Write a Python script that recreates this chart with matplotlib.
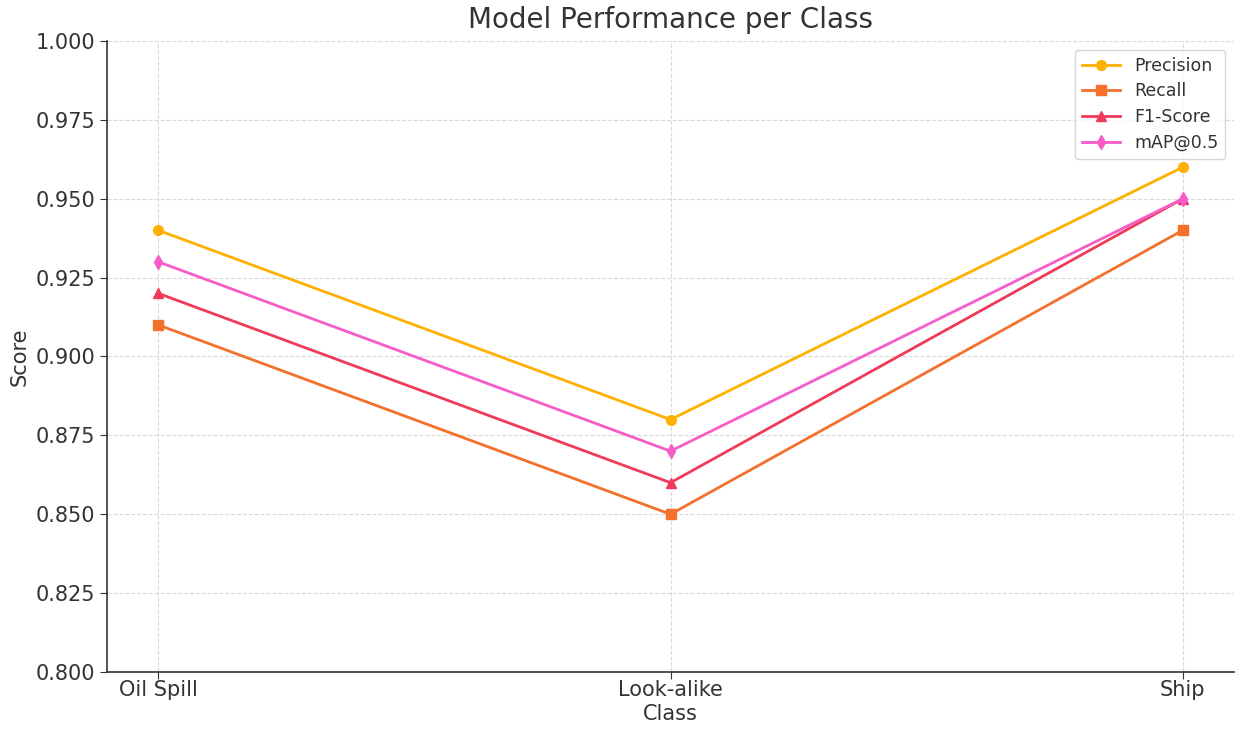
import matplotlib
matplotlib.use("Agg")
import matplotlib.pyplot as plt

classes = ["Oil Spill", "Look-alike", "Ship"]
precision = [0.94, 0.88, 0.96]
recall = [0.91, 0.85, 0.94]
f1_score = [0.92, 0.86, 0.95]
map50 = [0.93, 0.87, 0.95]
yticks = [0.800, 0.825, 0.850, 0.875, 0.900, 0.925, 0.950, 0.975, 1.000]

plt.rcParams['font.family'] = ['DejaVu Sans']
txt = '#333333'

fig = plt.figure(figsize=(12.36, 7.29), dpi=100)
ax = fig.add_axes([0.0866, 0.0782, 0.9118, 0.8656])

series = [
    ("Precision", precision, '#ffb000', 'o', 7),
    ("Recall", recall, '#f4702b', 's', 6.5),
    ("F1-Score", f1_score, '#f03a5a', '^', 7),
    ("mAP@0.5", map50, '#f75cc9', 'd', 7.5),
]
x = list(range(len(classes)))
for name, vals, col, mk, ms in series:
    ax.plot(x, vals, color=col, marker=mk, markersize=ms, linewidth=2, label=name)

ax.set_ylim(0.8, 1.0)
ax.set_yticks(yticks)
ax.set_yticklabels([f"{v:.3f}" for v in yticks])
ax.set_xticks(x)
ax.set_xticklabels(classes)
ax.tick_params(axis='both', labelsize=15, colors=txt, length=5)
ax.tick_params(axis='x', pad=1)
ax.grid(True, linestyle='--', color='#d9d9d9', linewidth=0.8)
for s in ['top', 'right']:
    ax.spines[s].set_visible(False)
for s in ['left', 'bottom']:
    ax.spines[s].set_color(txt)
    ax.spines[s].set_linewidth(1.2)
ax.set_title("Model Performance per Class", fontsize=20, color=txt, pad=9)
ax.set_xlabel("Class", fontsize=15, color=txt, labelpad=3)
ax.set_ylabel("Score", fontsize=15, color=txt)
leg = ax.legend(loc='upper right', fontsize=12.5, frameon=True, edgecolor='#cccccc',
                handlelength=2.2, labelspacing=0.45)
for t in leg.get_texts():
    t.set_color(txt)

fig.savefig("out.png", dpi=100)
